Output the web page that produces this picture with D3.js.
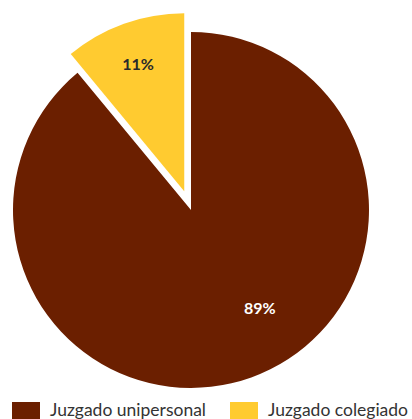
<!DOCTYPE html>
<html><head><meta charset="utf-8">
<script src="https://cdn.jsdelivr.net/npm/d3@7/dist/d3.min.js"></script>
<style>html,body{margin:0;padding:0;background:#fff;overflow:hidden}</style>
</head><body>
<svg id="c" width="412" height="419"></svg>
<script>
const categories = ["Juzgado unipersonal", "Juzgado colegiado"];
const values = [89, 11];
const labels = ["89%", "11%"];
const colors = ["#6b1f00", "#ffcb30"];
const labelColors = ["#ffffff", "#2a2a2a"];

const svg = d3.select("#c");
const cx = 191, cy = 210, r = 178, explode = 20;
const pie = d3.pie().sort(null).value(d => d)(values);
const arc = d3.arc().innerRadius(0).outerRadius(r);
const g = svg.append("g").attr("transform", `translate(${cx},${cy})`);

pie.forEach((p, i) => {
  const mid = (p.startAngle + p.endAngle) / 2;
  const off = i === 1 ? explode : 0;
  const dx = Math.sin(mid) * off, dy = -Math.cos(mid) * off;
  const sg = g.append("g").attr("transform", `translate(${dx},${dy})`);
  sg.append("path").attr("d", arc(p)).attr("fill", colors[i]);
  let la, lr;
  if (i === 0) { la = mid - 0.27; lr = r * 0.67; } else { la = mid; lr = r * 0.765; }
  sg.append("text")
    .attr("x", Math.sin(la) * lr).attr("y", -Math.cos(la) * lr)
    .attr("text-anchor", "middle").attr("dominant-baseline", "central")
    .attr("font-family", "Lato, 'Open Sans', sans-serif").attr("font-weight", "bold")
    .attr("font-size", 16).attr("fill", labelColors[i]).text(labels[i]);
});

const legX = [12, 230];
categories.forEach((c, i) => {
  svg.append("rect").attr("x", legX[i]).attr("y", 402).attr("width", 28).attr("height", 17).attr("fill", colors[i]);
  svg.append("text").attr("x", legX[i] + 38).attr("y", 416)
    .attr("font-family", "Lato, 'Open Sans', sans-serif").attr("font-size", 17.5)
    .attr("fill", "#333").text(c);
});
</script>
</body></html>
